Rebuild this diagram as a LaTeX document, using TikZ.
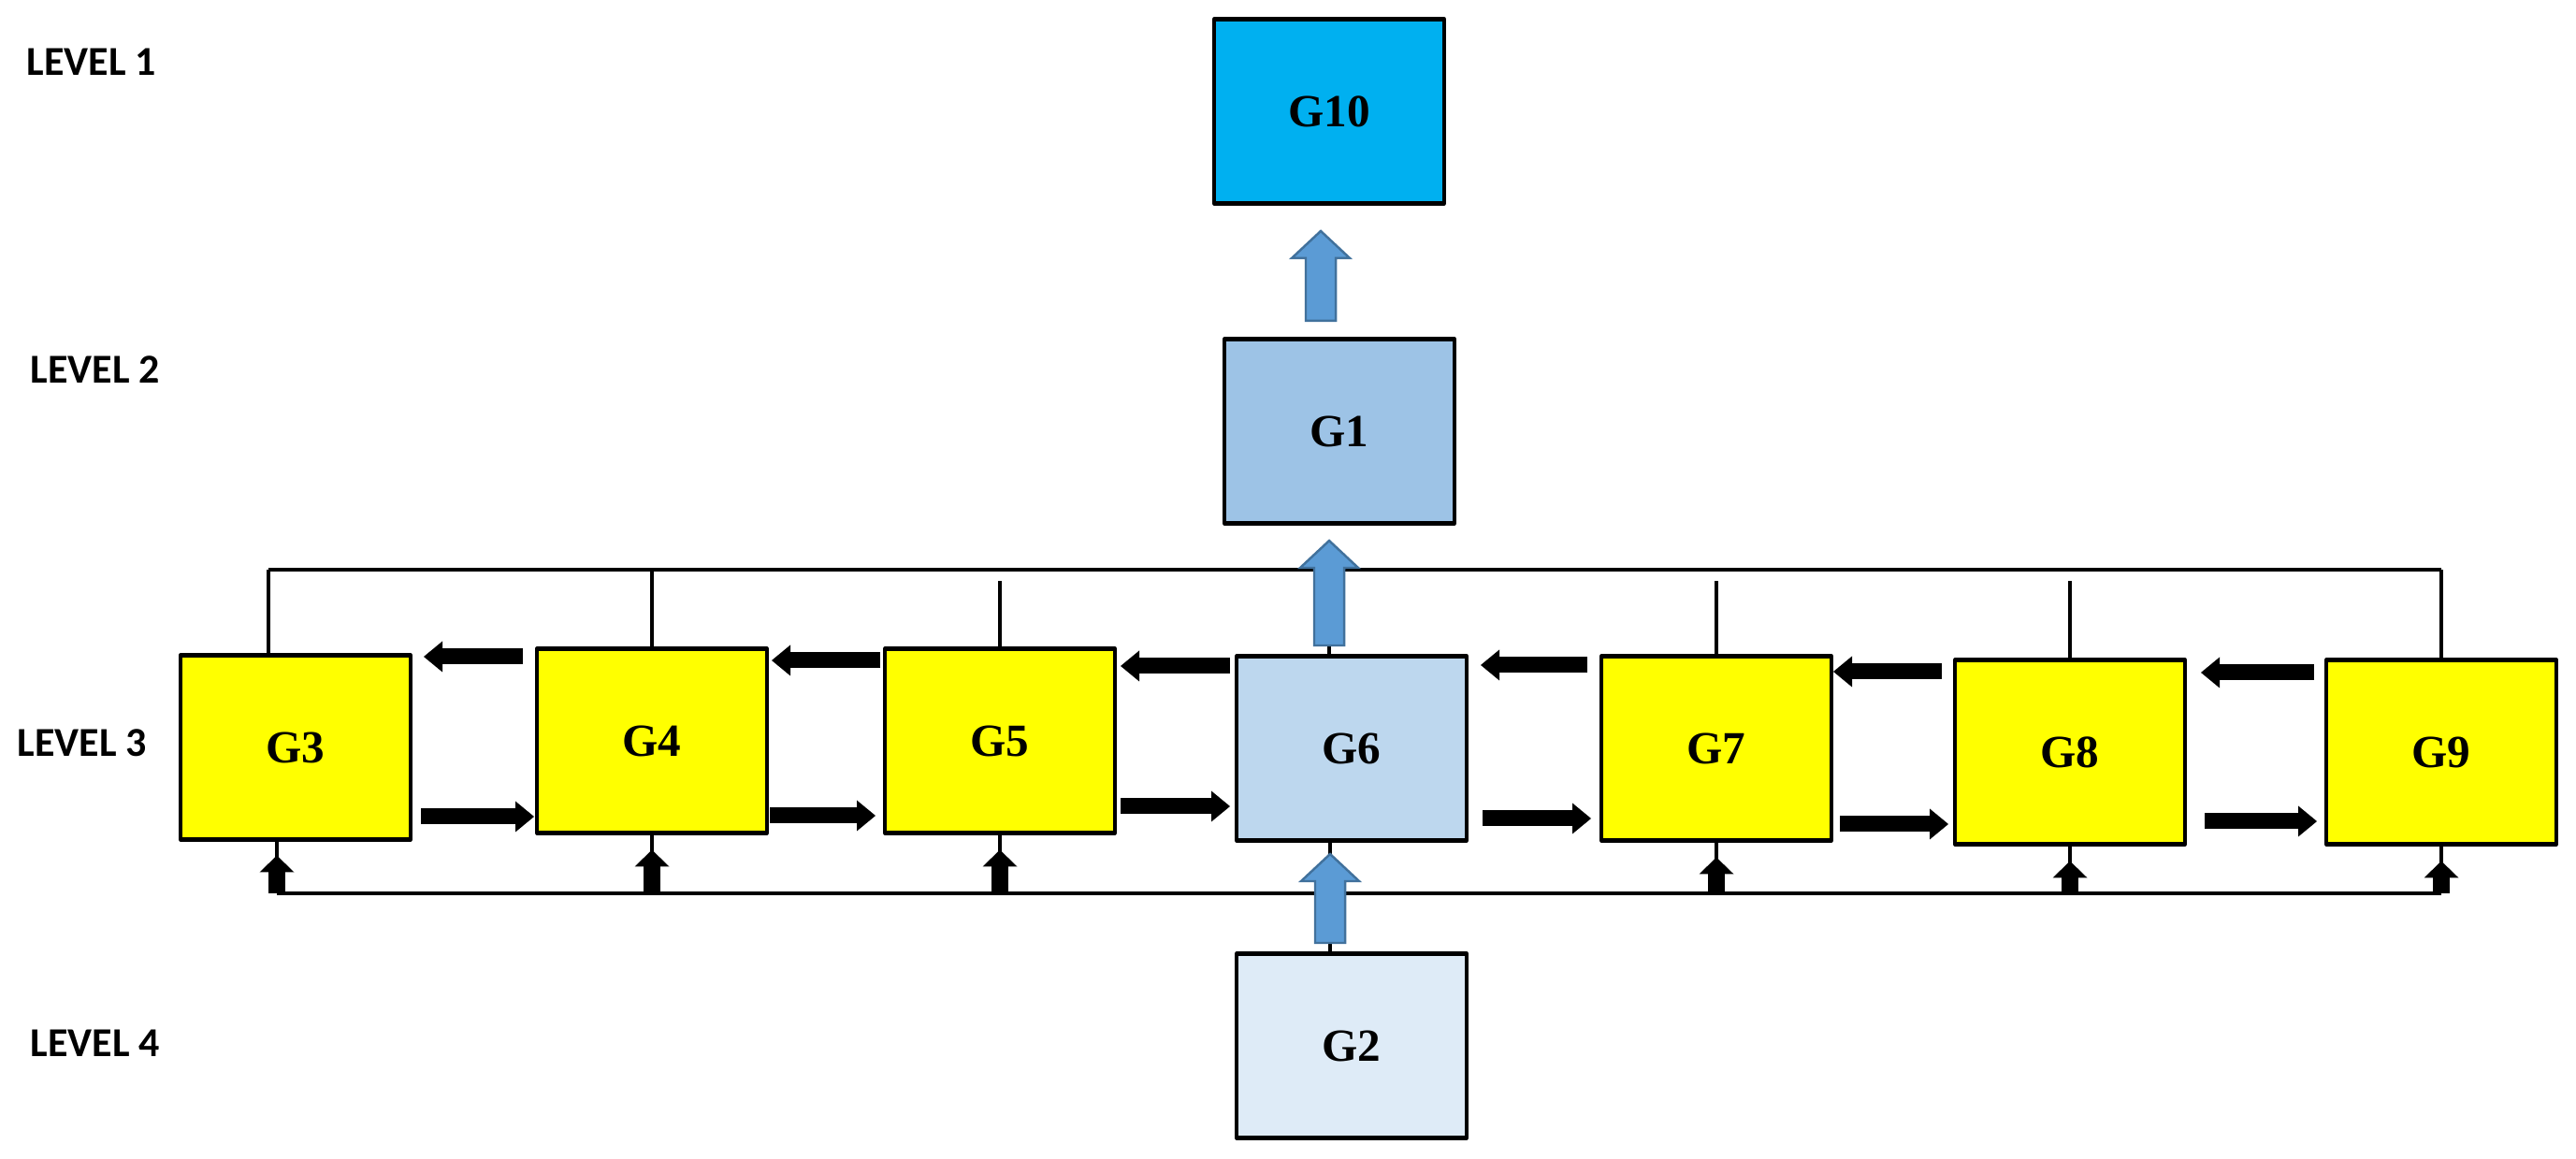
\documentclass[tikz,border=0pt]{standalone}
\usepackage{fontspec}
\usepackage{tikz}
\usetikzlibrary{arrows.meta,positioning,calc}
\newfontfamily\boxfont{Liberation Serif}
\newfontfamily\lvlfont{Carlito}

\definecolor{gyellow}{HTML}{FFFF00}
\definecolor{gcyan}{HTML}{00B0F0}
\definecolor{gblueA}{HTML}{9DC3E6}
\definecolor{gblueB}{HTML}{BDD7EE}
\definecolor{gblueC}{HTML}{DEEBF7}
\definecolor{arrfill}{HTML}{5B9BD5}
\definecolor{arrdraw}{HTML}{41719C}

\begin{document}
\begin{tikzpicture}[
  gbox/.style={draw, line width=1.2pt, line join=round, outer sep=0pt,
    minimum width=2.46cm, minimum height=1.97cm,
    font=\boxfont\bfseries\fontsize{14}{16}\selectfont},
  lvl/.style={anchor=west, inner sep=0pt, font=\lvlfont\bfseries\fontsize{12.5}{14}\selectfont},
  wire/.style={line width=1.1pt},
  bus/.style={line width=1.4pt},
  blk/.style={line width=0.17cm, -{Triangle[length=0.2cm, width=0.33cm, line width=0pt]}},
  upblk/.style={line width=0.18cm, -{Triangle[length=0.18cm, width=0.37cm, line width=0pt]}},
  bluearr/.style={draw=arrdraw, fill=arrfill, line width=0.7pt},
  pics/upblock/.style={code={
    \draw[bluearr] (-0.16,0) -- (-0.16,#1-0.29) -- (-0.31,#1-0.29) -- (0,#1)
      -- (0.31,#1-0.29) -- (0.16,#1-0.29) -- (0.16,0) -- cycle;}}
]
  \useasboundingbox (0,0) rectangle (27.54,12.39);

  % Levels
  \node[lvl] (lvl1) at (0.28,11.73) {LEVEL 1};
  \node[lvl] (lvl2) at (0.32,8.44) {LEVEL 2};
  \node[lvl] (lvl3) at (0.18,4.45) {LEVEL 3};
  \node[lvl] (lvl4) at (0.32,1.24) {LEVEL 4};

  % Boxes
  \node[gbox, fill=gblueB] (g6) at (14.45,4.39) {G6};
  \node[gbox, fill=gyellow, left=1.30cm of g6, yshift=0.8mm] (g5) {G5};
  \node[gbox, fill=gyellow, left=1.26cm of g5] (g4) {G4};
  \node[gbox, fill=gyellow, left=1.35cm of g4, yshift=-0.7mm] (g3) {G3};
  \node[gbox, fill=gyellow, right=1.44cm of g6] (g7) {G7};
  \node[gbox, fill=gyellow, right=1.32cm of g7, yshift=-0.4mm] (g8) {G8};
  \node[gbox, fill=gyellow, right=1.51cm of g8] (g9) {G9};
  \node[gbox, fill=gblueA, above=1.42cm of g6, xshift=-1.3mm] (g1) {G1};
  \node[gbox, fill=gcyan, above=1.45cm of g1, xshift=-1.1mm] (g10) {G10};
  \node[gbox, fill=gblueC, below=1.21cm of g6] (g2) {G2};

  % Top bus
  \coordinate (tl) at (2.87,6.30);
  \coordinate (tr) at (g9.north |- tl);
  \draw[bus] (tl) -- (tr);
  \draw[wire] (tl) -- (tl |- g3.north);
  \foreach \g in {g4,g9}
    \draw[wire] (\g.north) -- (\g.north |- tl);
  \foreach \g in {g5,g7,g8}
    \draw[wire] (\g.north) -- ($(\g.north |- tl)+(0,-0.12)$);

  % Bottom bus
  \coordinate (bl) at (2.96,2.84);
  \coordinate (br) at (g9.south |- bl);
  \draw[bus] (bl) -- (br);
  \draw[wire] (bl) -- (bl |- g3.south);
  \draw[upblk] (bl) -- ($(bl |- g3.south)+(0,-0.17)$);
  \foreach \g in {g4,g5,g7,g8,g9} {
    \draw[wire] (\g.south |- bl) -- (\g.south);
    \draw[upblk] (\g.south |- bl) -- ($(\g.south)+(0,-0.18)$);
  }

  % Arrows between boxes
  \foreach \a/\b/\ta/\tb/\dy in {g3/g4/0.14/0.15/0.085, g4/g5/0.05/0.05/0.125,
      g5/g6/0.06/0.07/0.105, g6/g7/0.15/0.15/0.095, g7/g8/0.02/0.14/0.125,
      g8/g9/0.17/0.13/0.135}
    \draw[blk] ($(\b.north west)+(-\tb,-\dy)$) -- ($(\a.east |- \b.north)+(\ta,-\dy)$);
  \foreach \a/\b/\ta/\tb/\dy in {g3/g4/0.11/0.03/0.245, g4/g5/0.03/0.10/0.185,
      g5/g6/0.06/0.07/0.285, g6/g7/0.17/0.11/0.235, g7/g8/0.09/0.07/0.175,
      g8/g9/0.21/0.10/0.245}
    \draw[blk] ($(\a.south east)+(\ta,\dy)$) -- ($(\b.west |- \a.south)+(-\tb,\dy)$);

  % Blue arrows
  \coordinate (a10) at ($(g1.north)+(-0.20,0.195)$);
  \pic at (a10) {upblock=0.96};
  \coordinate (a1) at ($(g6.north)+(-0.24,0.115)$);
  \draw[wire] (a1) -- (a1 |- g6.north);
  \pic at (a1) {upblock=1.12};
  \coordinate (a6) at ($(g2.north)+(-0.23,0.115)$);
  \draw[wire] (a6) -- (a6 |- g2.north);
  \draw[wire] ($(a6)+(0,0.95)$) -- (a6 |- g6.south);
  \pic at (a6) {upblock=0.95};
\end{tikzpicture}
\end{document}
